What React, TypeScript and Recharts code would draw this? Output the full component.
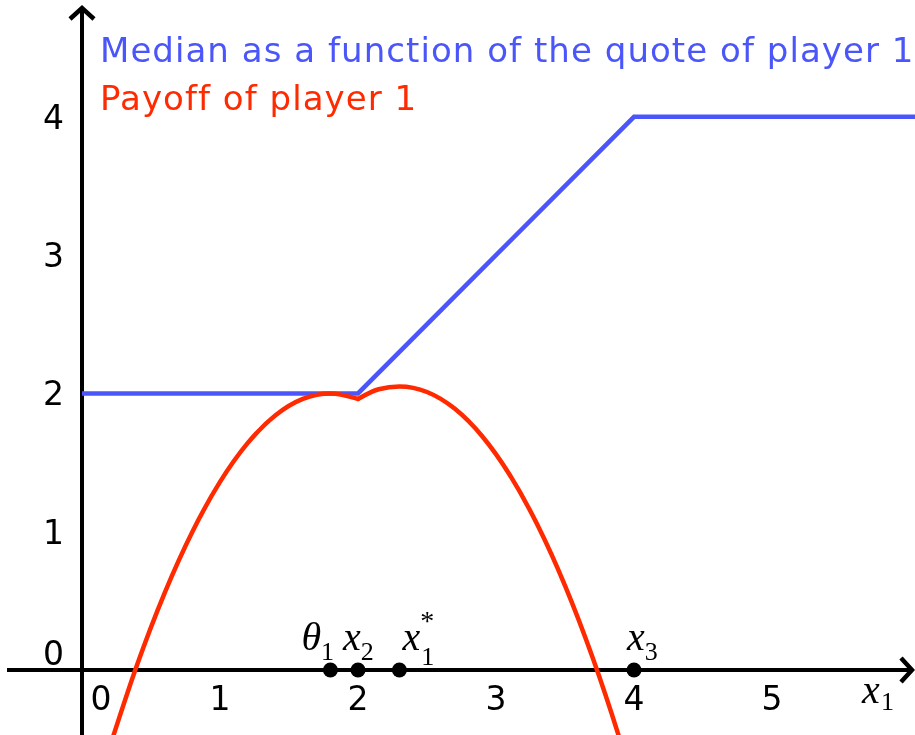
import React from 'react';
import { ComposedChart, Line, XAxis, YAxis, ReferenceLine, ReferenceDot } from 'recharts';

const xTicks = [0, 1, 2, 3, 4, 5];
const yTicks = [0, 1, 2, 3, 4];

const medianLine = [
  { x: 0, y: 2 },
  { x: 2, y: 2 },
  { x: 4, y: 4 },
  { x: 6.1, y: 4 },
];

// payoff, split at the kink x = 2
const payoffLeft = [
  { x: 0.2, y: -0.56 },
  { x: 0.4, y: 0.04 },
  { x: 0.6, y: 0.56 },
  { x: 0.8, y: 1.0 },
  { x: 1.0, y: 1.36 },
  { x: 1.2, y: 1.64 },
  { x: 1.4, y: 1.84 },
  { x: 1.6, y: 1.96 },
  { x: 1.8, y: 2.0 },
  { x: 2.0, y: 1.96 },
];
const payoffRight = [
  { x: 2.0, y: 1.96 },
  { x: 2.15, y: 2.03 },
  { x: 2.3, y: 2.05 },
  { x: 2.5, y: 2.01 },
  { x: 2.7, y: 1.89 },
  { x: 2.9, y: 1.69 },
  { x: 3.1, y: 1.41 },
  { x: 3.3, y: 1.05 },
  { x: 3.5, y: 0.61 },
  { x: 3.7, y: 0.09 },
  { x: 3.9, y: -0.51 },
  { x: 4.0, y: -0.84 },
];

const marks = [
  { x: 1.8, base: 'θ', sub: '1', sup: '' },
  { x: 2, base: 'x', sub: '2', sup: '' },
  { x: 2.3, base: 'x', sub: '1', sup: '*' },
  { x: 4, base: 'x', sub: '3', sup: '' },
];
const markDx: Record<number, number> = { 0: -29, 1: -15, 2: 3, 3: -7 };

const BLUE = '#4b56fa';
const RED = '#ff2a00';
const W = 915;
const H = 735;
const sans = 'DejaVu Sans';
const serif = 'Liberation Serif';

const HAxis = (p: any) => {
  const { y1, x1, x2 } = p;
  const tip = Math.max(x1, x2) - 3;
  return (
    <g>
      <line x1={Math.min(x1, x2) + 7} y1={y1} x2={tip} y2={y1} stroke="#000" strokeWidth={4} />
      <polyline points={`${tip - 11},${y1 - 12} ${tip},${y1} ${tip - 11},${y1 + 12}`} fill="none" stroke="#000" strokeWidth={4.5} />
      <text x={tip - 50} y={y1 + 33} fontFamily={serif} fontStyle="italic" fontSize={40}>x</text>
      <text x={tip - 31} y={y1 + 40} fontFamily={serif} fontSize={26}>1</text>
    </g>
  );
};

const VAxis = (p: any) => {
  const { x1, y1, y2 } = p;
  const top = Math.min(y1, y2) + 8;
  return (
    <g>
      <line x1={x1} y1={Math.max(y1, y2)} x2={x1} y2={top} stroke="#000" strokeWidth={4} />
      <polyline points={`${x1 - 12},${top + 11} ${x1},${top} ${x1 + 12},${top + 11}`} fill="none" stroke="#000" strokeWidth={4.5} />
    </g>
  );
};

export default function App() {
  return (
    <div style={{ position: 'fixed', left: 0, top: 0 }}>
      <ComposedChart width={W} height={H} margin={{ top: 0, right: 0, bottom: 0, left: 0 }}>
        <XAxis type="number" dataKey="x" domain={[-0.5942, 6.0362]} allowDataOverflow hide />
        <YAxis type="number" dataKey="y" domain={[-0.47, 4.8445]} allowDataOverflow hide />
        <ReferenceLine y={0} shape={HAxis} />
        <ReferenceLine x={0} shape={VAxis} />
        <Line data={medianLine} dataKey="y" type="linear" stroke={BLUE} strokeWidth={4.5} dot={false} activeDot={false} isAnimationActive={false} />
        <Line data={payoffLeft} dataKey="y" type="monotone" stroke={RED} strokeWidth={4.5} strokeLinecap="round" dot={false} activeDot={false} isAnimationActive={false} />
        <Line data={payoffRight} dataKey="y" type="monotone" stroke={RED} strokeWidth={4.5} strokeLinecap="round" dot={false} activeDot={false} isAnimationActive={false} />
        {xTicks.map((t) => (
          <ReferenceDot key={'xt' + t} x={t} y={0} r={0} shape={(p: any) => (
            <text x={p.cx + (t === 0 ? 19 : 0)} y={p.cy + 40} textAnchor="middle" fontFamily={sans} fontSize={33}>{t}</text>
          )} />
        ))}
        {yTicks.map((t) => (
          <ReferenceDot key={'yt' + t} x={0} y={t} r={0} shape={(p: any) => (
            <text x={p.cx - 18} y={p.cy + (t === 0 ? -5 : 12)} textAnchor="end" fontFamily={sans} fontSize={33}>{t}</text>
          )} />
        ))}
        {marks.map((m, i) => (
          <ReferenceDot key={'m' + i} x={m.x} y={0} r={7.5} shape={(p: any) => (
            <g>
              <circle cx={p.cx} cy={p.cy} r={7.5} fill="#000" />
              <text x={p.cx + markDx[i]} y={p.cy - 20} fontFamily={serif} fontSize={40}>
                <tspan fontStyle="italic">{m.base}</tspan>
                {m.sup ? <tspan dy={-20} fontSize={28}>{m.sup}</tspan> : null}
                <tspan dx={m.sup ? -13 : 0} dy={m.sup ? 35 : 10} fontSize={26}>{m.sub}</tspan>
              </text>
            </g>
          )} />
        ))}
        <text x={100} y={62} fill={BLUE} fontFamily={sans} fontSize={34} letterSpacing={1.05}>Median as a function of the quote of player 1</text>
        <text x={100} y={110} fill={RED} fontFamily={sans} fontSize={34} letterSpacing={1.05}>Payoff of player 1</text>
      </ComposedChart>
    </div>
  );
}
